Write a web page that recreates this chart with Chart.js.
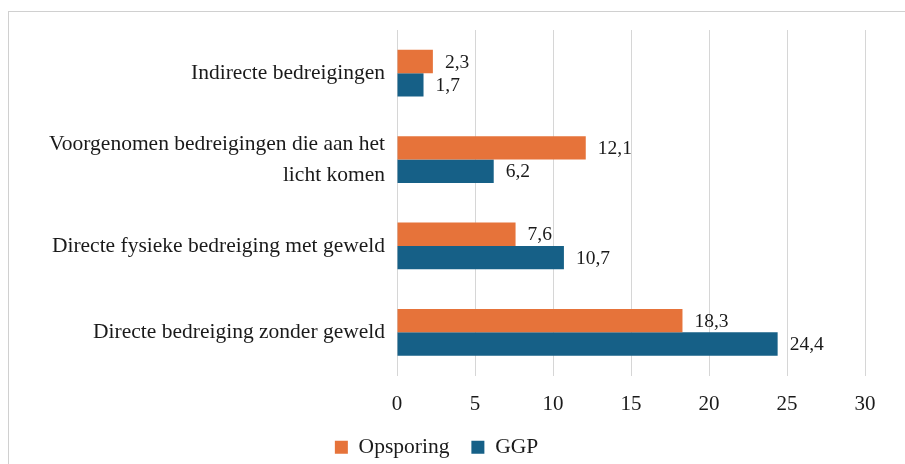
<!DOCTYPE html>
<html>
<head>
    <meta charset="utf-8">
    <title>Bedreigingen</title>
    <script src="https://cdn.jsdelivr.net/npm/chart.js"></script>
    <style>
        html, body {
            margin: 0;
            padding: 0;
            background: white;
            overflow: hidden;
        }
        .frame {
            position: absolute;
            left: 8px;
            top: 11px;
            width: 940px;
            height: 500px;
            border: 1px solid #d0d0d0;
        }
        /* a little taller than the window so the legend sits near the bottom edge */
        .chart-box {
            position: absolute;
            left: 0;
            top: 0;
            width: 905px;
            height: 468px;
        }
    </style>
</head>
<body>
    <div class="frame"></div>
    <div class="chart-box">
        <canvas id="threatChart"></canvas>
    </div>

    <script>
        // Data
        const categories = [
            'Indirecte bedreigingen',
            ['Voorgenomen bedreigingen die aan het', 'licht komen'],
            'Directe fysieke bedreiging met geweld',
            'Directe bedreiging zonder geweld'
        ];
        const opsporing = [2.3, 12.1, 7.6, 18.3];
        const ggp = [1.7, 6.2, 10.7, 24.4];
        const xTicks = [0, 5, 10, 15, 20, 25, 30];

        const fontFamily = '"Liberation Serif", "Times New Roman", serif';
        const textColor = '#1a1a1a';

        // Draw the value next to the end of every bar
        const valueLabels = {
            id: 'valueLabels',
            afterDatasetsDraw(chart) {
                const ctx = chart.ctx;
                ctx.save();
                ctx.font = '19.5px ' + fontFamily;
                ctx.fillStyle = textColor;
                ctx.textAlign = 'left';
                ctx.textBaseline = 'middle';
                chart.data.datasets.forEach((ds, i) => {
                    chart.getDatasetMeta(i).data.forEach((bar, j) => {
                        const txt = ds.data[j].toFixed(1).replace('.', ',');
                        ctx.fillText(txt, bar.x + 12, bar.y + 1);
                    });
                });
                ctx.restore();
            }
        };

        new Chart(document.getElementById('threatChart'), {
            type: 'bar',
            data: {
                labels: categories,
                datasets: [{
                    label: 'Opsporing',
                    data: opsporing,
                    backgroundColor: '#e6733a'
                }, {
                    label: 'GGP',
                    data: ggp,
                    backgroundColor: '#166087'
                }]
            },
            options: {
                indexAxis: 'y',
                responsive: true,
                maintainAspectRatio: false,
                animation: false,
                layout: {
                    padding: { left: 8, right: 40, top: 30, bottom: 0 }
                },
                datasets: {
                    bar: {
                        categoryPercentage: 0.54,
                        barPercentage: 1.0
                    }
                },
                scales: {
                    x: {
                        min: 0,
                        max: 30,
                        afterBuildTicks(scale) {
                            scale.ticks = xTicks.map(v => ({ value: v }));
                        },
                        afterFit(scale) {
                            scale.height = 39;
                        },
                        grid: {
                            color: '#d6d6d6',
                            drawTicks: false
                        },
                        border: { display: false },
                        ticks: {
                            padding: 16,
                            color: textColor,
                            font: { family: fontFamily, size: 21 }
                        }
                    },
                    y: {
                        afterFit(scale) {
                            scale.width = 389;
                        },
                        grid: { display: false, drawTicks: false },
                        border: { display: false },
                        ticks: {
                            padding: 12,
                            color: textColor,
                            font: { family: fontFamily, size: 21.5, lineHeight: 1.45 }
                        }
                    }
                },
                plugins: {
                    legend: {
                        position: 'bottom',
                        labels: {
                            boxWidth: 13,
                            boxHeight: 13,
                            padding: 22,
                            color: textColor,
                            font: { family: fontFamily, size: 21.5 }
                        }
                    },
                    tooltip: { enabled: false }
                }
            },
            plugins: [valueLabels]
        });
    </script>
</body>
</html>
